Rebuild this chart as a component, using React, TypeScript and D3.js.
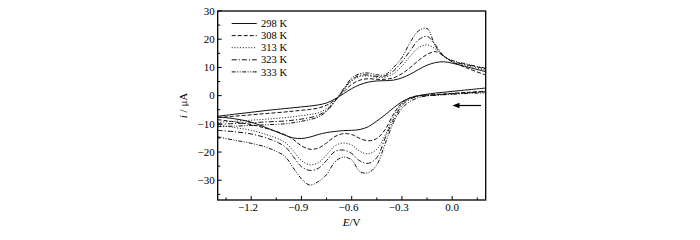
import React from "react";
import * as d3 from "d3";

const potentials = [-1.4, -1.3, -1.2, -1.1, -1.0, -0.95, -0.9, -0.85, -0.8, -0.75, -0.7, -0.65, -0.6, -0.55, -0.5, -0.45, -0.4, -0.35, -0.3, -0.25, -0.2, -0.15, -0.1, -0.05, 0.0, 0.1, 0.2];

const seriesNames = ["298 K", "308 K", "313 K", "323 K", "333 K"];

// anodic (upper) branches, µA
const upper298 = [-7.3, -6.6, -5.9, -5.2, -4.6, -4.3, -4.0, -3.7, -3.3, -2.6, -1.2, 0.6, 2.5, 3.9, 4.8, 5.2, 5.3, 5.5, 6.3, 7.6, 9.3, 10.8, 11.7, 12.0, 11.5, 10.0, 8.5];
const upper308 = [-7.8, -7.3, -6.8, -6.3, -5.8, -5.5, -5.2, -4.9, -4.4, -3.4, -1.5, 1.2, 4.0, 5.5, 6.0, 5.8, 5.8, 6.3, 7.8, 10.0, 12.5, 14.6, 15.6, 14.0, 12.0, 9.5, 7.3];
const upper313 = [-9.5, -9.1, -8.7, -8.3, -7.8, -7.5, -7.1, -6.7, -6.1, -4.6, -1.8, 1.8, 5.2, 6.8, 7.0, 6.5, 6.6, 7.8, 10.5, 14.0, 17.0, 18.0, 16.5, 14.0, 12.0, 10.5, 9.0];
const upper323 = [-10.2, -9.9, -9.6, -9.3, -9.0, -8.7, -8.3, -7.8, -7.0, -5.2, -1.9, 2.0, 5.6, 7.2, 7.3, 6.8, 7.0, 8.8, 12.0, 16.0, 19.8, 21.0, 18.0, 14.0, 12.2, 10.8, 9.5];
const upper333 = [-11.0, -10.8, -10.6, -10.3, -10.0, -9.6, -9.1, -8.5, -7.6, -5.6, -2.0, 2.3, 6.2, 7.8, 8.0, 7.4, 7.4, 10.0, 13.5, 19.0, 23.0, 23.8, 17.5, 14.0, 12.5, 11.0, 9.7];

// cathodic (lower) branches, µA
const lower298 = [-7.5, -8.2, -9.4, -11.6, -14.0, -15.0, -15.2, -14.7, -13.8, -13.1, -12.7, -12.4, -12.3, -12.0, -11.0, -9.0, -6.8, -4.3, -2.2, -0.8, 0.0, 0.5, 0.9, 1.2, 1.5, 2.1, 2.7];
const lower308 = [-8.5, -9.3, -10.3, -11.8, -13.8, -15.5, -17.8, -19.0, -18.6, -16.8, -14.5, -13.5, -13.8, -15.2, -16.0, -15.2, -12.0, -6.5, -2.5, -0.7, 0.0, 0.2, 0.4, 0.6, 0.8, 1.2, 1.6];
const lower313 = [-10.5, -11.3, -12.3, -14.0, -16.5, -19.5, -23.0, -24.5, -23.8, -21.0, -17.8, -16.8, -17.5, -19.8, -20.6, -19.0, -14.0, -7.5, -3.0, -0.9, -0.1, 0.1, 0.3, 0.5, 0.7, 1.1, 1.4];
const lower323 = [-12.3, -12.8, -13.6, -15.2, -18.0, -21.5, -25.2, -26.5, -25.8, -23.0, -19.8, -19.3, -20.5, -23.2, -24.0, -22.0, -15.0, -8.5, -3.5, -1.2, -0.2, 0.0, 0.2, 0.4, 0.6, 1.0, 1.3];
const lower333 = [-14.6, -15.8, -16.9, -18.5, -21.5, -25.5, -29.5, -31.7, -30.5, -28.0, -23.5, -21.8, -22.8, -27.0, -27.3, -24.5, -17.0, -9.5, -4.5, -2.0, -0.7, -0.1, 0.1, 0.3, 0.5, 0.8, 1.0];

const upperBranches = [upper298, upper308, upper313, upper323, upper333];
const lowerBranches = [lower298, lower308, lower313, lower323, lower333];

const xMajorTicks = [-1.2, -0.9, -0.6, -0.3, 0.0];
const xMinorTicks = [-1.35, -1.05, -0.75, -0.45, -0.15, 0.15];
const yMajorTicks = [-30, -20, -10, 0, 10, 20, 30];
const yMinorTicks = [-35, -25, -15, -5, 5, 15, 25];

const dashes = ["", "4,2", "1,1.8", "5,2,1.2,2", "4,1.5,1,1.5,1,1.5"];

const FONT = "'Liberation Serif', 'Times New Roman', serif";

export default function App() {
  const left = 217.7, right = 485.7, top = 11, bottom = 200;
  const x = d3.scaleLinear().domain([-1.4, 0.2]).range([left, right]);
  const y = d3.scaleLinear().domain([-37, 30]).range([bottom, top]);
  const line = d3
    .line<number>()
    .x((_, i) => x(potentials[i]))
    .y((d) => y(d))
    .curve(d3.curveCatmullRom.alpha(0.5));

  const fmt = (v: number) => Math.abs(v).toFixed(1);
  const numW = (s: string) => s.length * 5.5 - (s.includes(".") ? 2.75 : 0);

  return (
    <svg width={700} height={240} style={{ position: "absolute", left: 0, top: 0, background: "#fff" }} fontFamily={FONT}>
      <defs>
        <clipPath id="plot">
          <rect x={left} y={top} width={right - left} height={bottom - top} />
        </clipPath>
      </defs>
      <g clipPath="url(#plot)" fill="none" stroke="#111" strokeWidth={1}>
        {seriesNames.map((n, k) => (
          <g key={n}>
            <path d={line(upperBranches[k]) || ""} strokeDasharray={dashes[k] || undefined} />
            <path d={line(lowerBranches[k]) || ""} strokeDasharray={dashes[k] || undefined} />
          </g>
        ))}
      </g>
      {/* frame */}
      <rect x={left} y={top} width={right - left} height={bottom - top} fill="none" stroke="#000" strokeWidth={1.3} />
      {/* x ticks */}
      {xMajorTicks.map((t) => (
        <g key={"xm" + t}>
          <line x1={x(t)} x2={x(t)} y1={bottom} y2={bottom - 4} stroke="#000" strokeWidth={1} />
          <text x={x(t) + numW(fmt(t)) / 2} y={bottom + 10.8} fontSize={11} textAnchor="end">
            {(t < 0 ? "\u2212" : "") + fmt(t)}
          </text>
        </g>
      ))}
      {xMinorTicks.map((t) => (
        <line key={"xn" + t} x1={x(t)} x2={x(t)} y1={bottom} y2={bottom - 2.5} stroke="#000" strokeWidth={1} />
      ))}
      {/* y ticks */}
      {yMajorTicks.map((t) => (
        <g key={"ym" + t}>
          <line x1={left} x2={left + 4} y1={y(t)} y2={y(t)} stroke="#000" strokeWidth={1} />
          <text x={left - 3} y={y(t) + 3.8} fontSize={11} textAnchor="end">
            {(t < 0 ? "\u2212" : "") + Math.abs(t)}
          </text>
        </g>
      ))}
      {yMinorTicks.map((t) => (
        <line key={"yn" + t} x1={left} x2={left + 2.5} y1={y(t)} y2={y(t)} stroke="#000" strokeWidth={1} />
      ))}
      {/* axis titles */}
      <text x={(left + right) / 2} y={226} fontSize={11} textAnchor="middle">
        <tspan fontStyle="italic">E</tspan>/V
      </text>
      <text transform={`translate(187,${(top + bottom) / 2}) rotate(-90)`} fontSize={11} textAnchor="middle">
        <tspan fontStyle="italic">i</tspan> / μA
      </text>
      {/* legend */}
      {seriesNames.map((n, k) => {
        const ly = 23.5 + k * 12.1;
        return (
          <g key={"lg" + n}>
            <line x1={231.7} x2={256.7} y1={ly} y2={ly} stroke="#111" strokeWidth={1} strokeDasharray={dashes[k] || undefined} />
            <text x={261} y={ly + 3.6} fontSize={10.5}>
              {n}
            </text>
          </g>
        );
      })}
      {/* scan direction arrow */}
      <line x1={458} x2={481} y1={105.5} y2={105.5} stroke="#000" strokeWidth={1.2} />
      <path d="M452.5,105.5 L459.5,102.8 L459.5,108.2 Z" fill="#000" />
    </svg>
  );
}
